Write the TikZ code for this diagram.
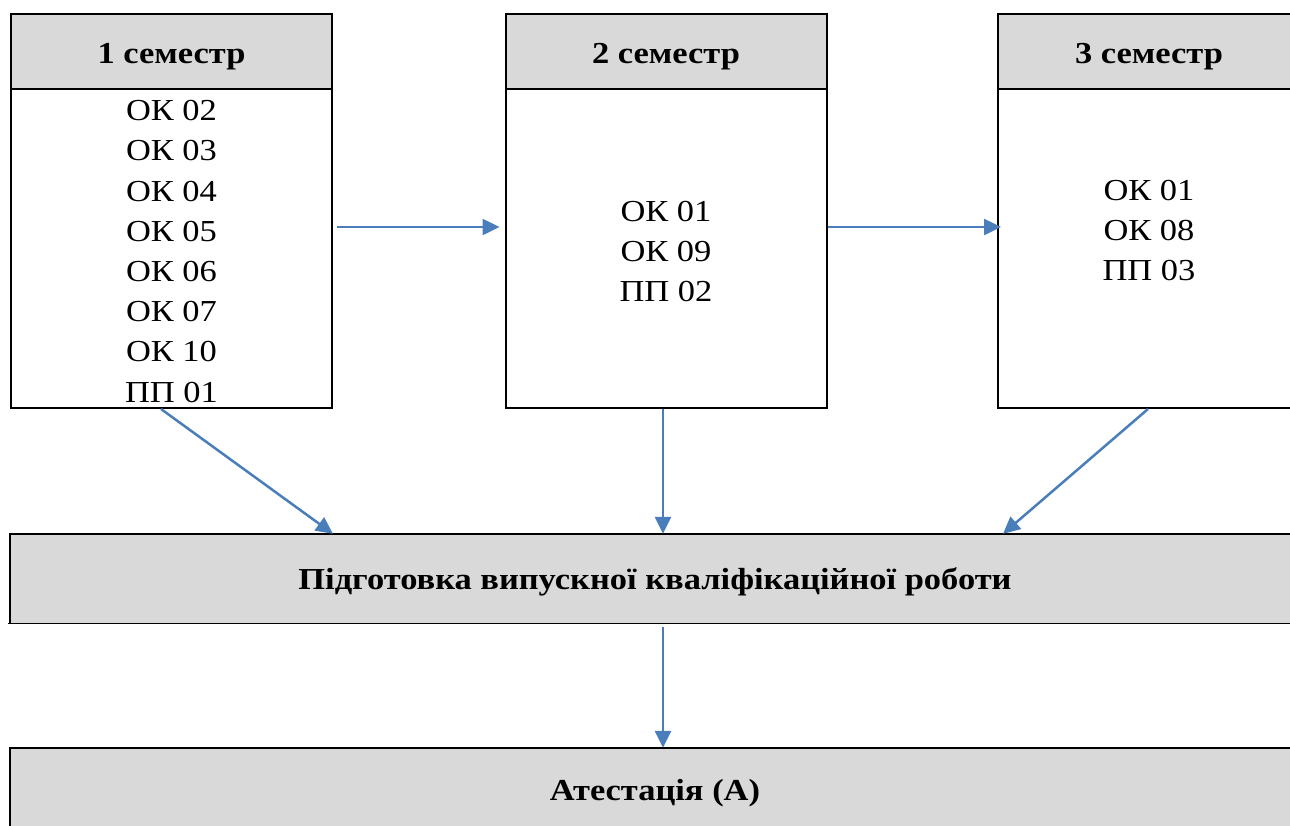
\documentclass[tikz,border=0pt]{standalone}
\usepackage{fontspec}
\setmainfont[FakeStretch=1.13]{Liberation Serif}
\usetikzlibrary{arrows.meta}
\definecolor{hdrgray}{HTML}{D9D9D9}
\definecolor{arrblue}{HTML}{4A7EBB}
\tikzset{
  hdr/.style={draw, fill=hdrgray, line width=2pt, minimum height=75pt, inner sep=0pt,
    text height=23pt, text depth=0pt,
    font=\fontsize{30.5}{36}\selectfont\bfseries},
  bodybox/.style={draw, line width=2pt, minimum height=319pt, inner sep=0pt, align=center,
    font=\fontsize{30.5}{40.2}\selectfont},
  bodytext/.style={inner sep=0pt, align=center, font=\fontsize{30.5}{40.2}\selectfont},
  wide/.style={fill=hdrgray, minimum width=1290pt, inner sep=0pt,
    text height=21pt, text depth=0pt,
    font=\fontsize{30.5}{36}\selectfont\bfseries},
  arr/.style={draw=arrblue, line width=2.5pt, -{Triangle[length=17pt,width=16pt]}}
}
\begin{document}
\begin{tikzpicture}[x=1pt,y=-1pt]
\useasboundingbox (0,0) rectangle (1290,825);
\clip (0,0) rectangle (1290,825);
% semester 1
\node[hdr, minimum width=321pt] (h1) at (171.5,51.5) {1 семестр};
\node[bodybox, minimum width=321pt] (b1) at (171.5,248.5) {};
\node[bodytext] (t1) at ([yshift=-3pt]b1.center) {ОК 02\\ОК 03\\ОК 04\\ОК 05\\ОК 06\\ОК 07\\ОК 10\\ПП 01};
% semester 2
\node[hdr, minimum width=321pt] (h2) at (666,51.5) {2 семестр};
\node[bodybox, minimum width=321pt] (b2) at (666,248.5) {};
\node[bodytext] (t2) at ([yshift=-3pt]b2.center) {ОК 01\\ОК 09\\ПП 02};
% semester 3
\node[hdr, minimum width=302pt] (h3) at (1149,51.5) {3 семестр};
\node[bodybox, minimum width=302pt] (b3) at (1149,248.5) {};
\node[bodytext] (t3) at ([yshift=-3pt,yshift=21pt]b3.center) {ОК 01\\ОК 08\\ПП 03};
% thesis box
\node[wide, minimum height=89pt] (vkr) at (655,578.5) {Підготовка випускної кваліфікаційної роботи};
\draw[line width=2pt] (vkr.south west) -- (vkr.north west) -- (vkr.north east);
\draw[line width=1pt] ([xshift=-2pt]vkr.south west) -- (vkr.south east);
% attestation box
\node[wide, minimum height=84pt] (att) at (655,790) {Атестація (А)};
\draw[line width=2pt] (att.south west) -- (att.north west) -- (att.north east);
% arrows
\draw[arr] ([xshift=4pt,yshift=21.5pt]b1.east) -- ([xshift=-5pt,yshift=21.5pt]b2.west);
\draw[arr] ([yshift=21.5pt]b2.east) -- ([xshift=4pt,yshift=21.5pt]b3.west);
\draw[arr] ([xshift=-10.5pt]b1.south) -- ([xshift=-322pt]vkr.north);
\draw[arr] ([xshift=-3pt]b2.south) -- ([xshift=8pt]vkr.north);
\draw[arr] ([xshift=-1pt]b3.south) -- ([xshift=348pt]vkr.north);
\draw[arr] ([xshift=8pt,yshift=-4pt]vkr.south) -- ([xshift=8pt]att.north);
\end{tikzpicture}
\end{document}
